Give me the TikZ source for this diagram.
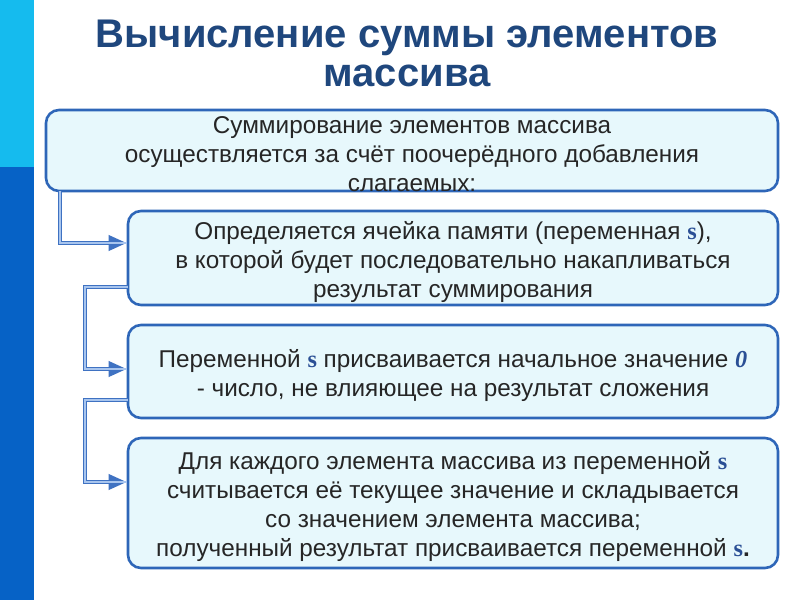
\documentclass[tikz,border=0pt]{standalone}
\usepackage{fontspec}
\setmainfont{Liberation Sans}
\newfontfamily\serifvar{Liberation Serif}
\usetikzlibrary{arrows.meta,calc}
\definecolor{barlight}{HTML}{15BBEE}
\definecolor{bardark}{HTML}{0662C6}
\definecolor{titleblue}{HTML}{1F477D}
\definecolor{boxborder}{HTML}{2E66B8}
\definecolor{boxfill}{HTML}{E7F8FC}
\definecolor{linkdark}{HTML}{3F72C2}
\definecolor{linklight}{HTML}{A8C5EE}
\definecolor{varblue}{HTML}{2A4F95}
\newcommand{\varS}{{\serifvar\bfseries\color{varblue}s}}
\newcommand{\varZero}{{\serifvar\bfseries\itshape\color{varblue}0}}
\begin{document}
\begin{tikzpicture}[x=1pt,y=-1pt,
  infobox/.style={draw=boxborder,line width=2.6pt,fill=boxfill,rounded corners=13pt,inner sep=0pt},
  infotext/.style={align=center,inner sep=0pt,font=\fontsize{24.3}{29}\selectfont,text=black!85,yshift=-3.5pt},
  link/.style={draw=linkdark,line width=3.6pt,
    -{Triangle[length=18pt,width=15pt,fill=linkdark]},
    postaction={draw=linklight,line width=1.4pt,-}},
  titletext/.style={font=\fontsize{40}{39}\selectfont\bfseries,text=titleblue,align=center}]
\useasboundingbox (0,0) rectangle (800,600);
\fill[white] (0,0) rectangle (800,600);
\fill[barlight] (0,0) rectangle (34,167);
\fill[bardark] (0,167) rectangle (34,600);
\node[titletext] (title) at (407,53) {Вычисление суммы элементов\\массива};
\node[infobox,minimum width=732pt,minimum height=81pt] (b1) at (412,150.5) {};
\node[infotext] (t1) at (b1.center)
  {Суммирование элементов массива\\осуществляется за счёт поочерёдного добавления\\слагаемых:};
\node[infobox,minimum width=650pt,minimum height=94pt] (b2) at (453,258) {};
\node[infotext] (t2) at (b2.center)
  {Определяется ячейка памяти (переменная \varS),\\в которой будет последовательно накапливаться\\результат суммирования};
\node[infobox,minimum width=650pt,minimum height=93pt] (b3) at (453,371.5) {};
\node[infotext] (t3) at (b3.center)
  {Переменной \varS{} присваивается начальное значение \varZero\\- число, не влияющее на результат сложения};
\node[infobox,minimum width=650pt,minimum height=130pt] (b4) at (453,503) {};
\node[infotext] (t4) at (b4.center)
  {Для каждого элемента массива из переменной \varS\\считывается её текущее значение и складывается\\со значением элемента массива;\\полученный результат присваивается переменной \varS\textbf{.}};
\coordinate (s1) at (60,191);
\coordinate (s2) at (128,287);
\coordinate (s3) at (128,400);
\draw[link] (s1) -- (60,243) -- (b2.west |- 0,243);
\draw[link] (s2) -- (85,287) -- (85,369) -- (b3.west |- 0,369);
\draw[link] (s3) -- (85,400) -- (85,482) -- (b4.west |- 0,482);
\end{tikzpicture}
\end{document}
